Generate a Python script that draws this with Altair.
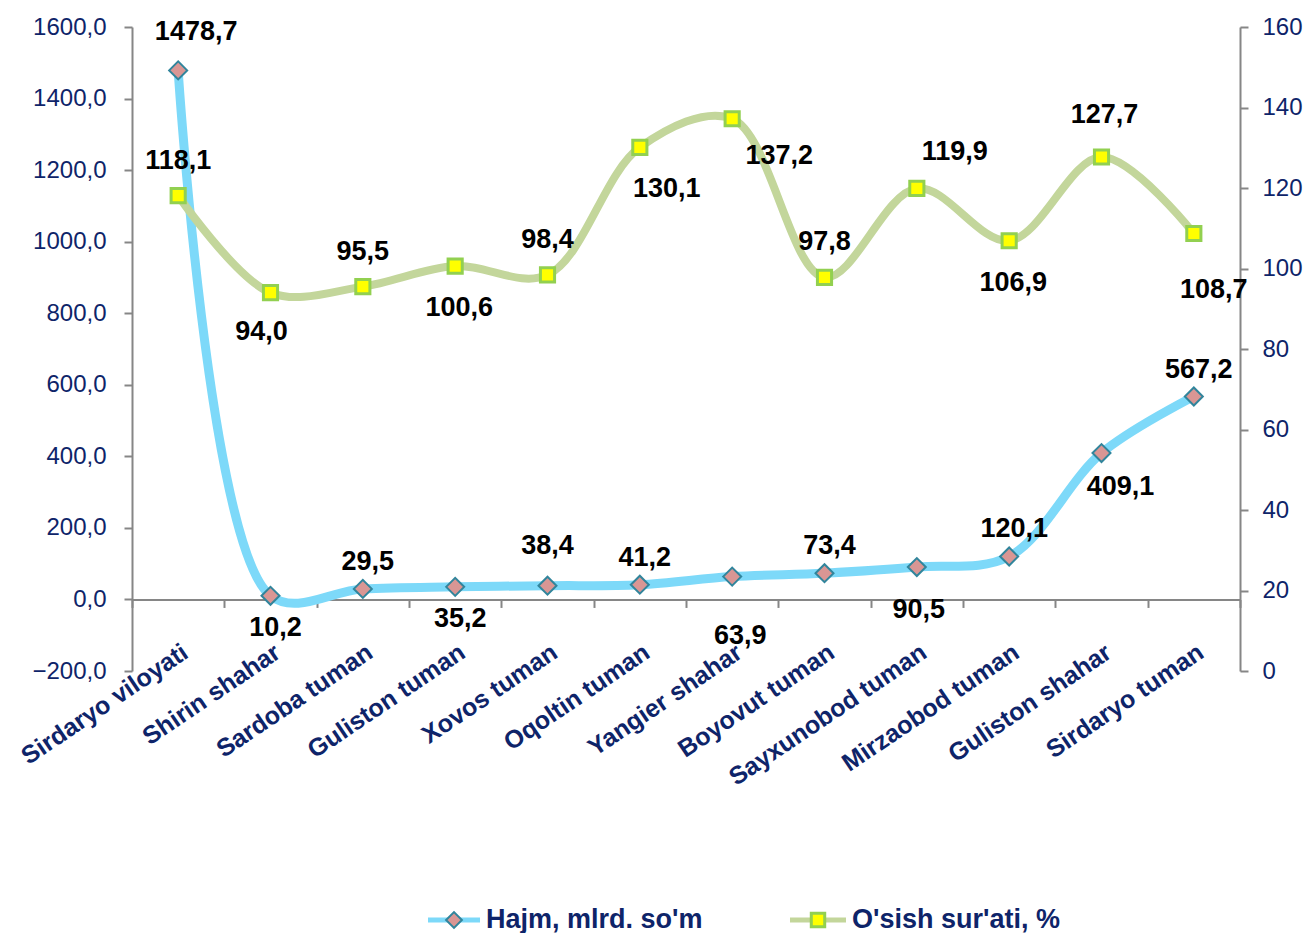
import altair as alt
import pandas as pd

categories = [
    "Sirdaryo viloyati", "Shirin shahar", "Sardoba tuman", "Guliston tuman",
    "Xovos tuman", "Oqoltin tuman", "Yangier shahar", "Boyovut tuman",
    "Sayxunobod tuman", "Mirzaobod tuman", "Guliston shahar", "Sirdaryo tuman",
]
hajm = [1478.7, 10.2, 29.5, 35.2, 38.4, 41.2, 63.9, 73.4, 90.5, 120.1, 409.1, 567.2]
osish = [118.1, 94.0, 95.5, 100.6, 98.4, 130.1, 137.2, 97.8, 119.9, 106.9, 127.7, 108.7]
hajm_label_pos = ["above_right", "below", "above", "below", "above_high", "above",
                  "below_far", "above", "below_mid", "above", "below_right", "above"]
osish_label_pos = ["above", "below_left", "above", "below", "above", "below_right",
                   "below_right2", "above", "above_right", "below", "above_high", "below_far"]
series_names = ["Hajm, mlrd. so'm", "O'sish sur'ati, %"]

df = pd.DataFrame({
    "cat": categories, "hajm": hajm, "osish": osish,
    "pos_h": hajm_label_pos, "pos_o": osish_label_pos,
})
legend_df = pd.DataFrame({"series": series_names})

NAVY = "#0E2469"
FONT = "Liberation Sans"
GRAY = "#868686"
BLUE = "#7DD9F9"
GREEN = "#C3D69B"
W, H = 1108, 644
zero_offset = -(H * 200 / 1800)

offsets_h = {
    "above": (5, -27), "above_high": (0, -40), "above_right": (18, -38),
    "below": (5, 32), "below_mid": (2, 43), "below_far": (8, 59), "below_right": (19, 34),
}
offsets_o = {
    "above": (0, -35), "above_high": (3, -42), "above_right": (38, -36),
    "below": (4, 42), "below_left": (-9, 39), "below_right": (27, 42),
    "below_right2": (47, 37), "below_far": (20, 57),
}

x_enc = alt.X(
    "cat:N", sort=categories,
    scale=alt.Scale(type="band", paddingInner=0, paddingOuter=0),
    axis=alt.Axis(
        title=None, orient="bottom", offset=zero_offset,
        domainColor=GRAY, domainWidth=2, tickColor=GRAY, tickWidth=2, tickSize=8,
        tickBand="extent", labelAngle=-34, labelAlign="right", labelBaseline="top",
        labelFont=FONT, labelFontSize=25, labelFontWeight="bold", labelColor=NAVY,
        labelPadding=32, labelLimit=0,
    ),
)

y_left = alt.Y(
    "hajm:Q",
    scale=alt.Scale(domain=[-200, 1600], nice=False, zero=False),
    axis=alt.Axis(
        title=None, orient="left", values=list(range(-200, 1601, 200)),
        labelExpr="replace(format(datum.value, '.1f'), '.', ',')",
        grid=False, domainColor=GRAY, domainWidth=2, tickColor=GRAY, tickWidth=2,
        tickSize=8, labelPadding=18, labelFont=FONT, labelFontSize=24, labelColor=NAVY,
    ),
)
y_right = alt.Y(
    "osish:Q",
    scale=alt.Scale(domain=[0, 160], nice=False, zero=False),
    axis=alt.Axis(
        title=None, orient="right", values=list(range(0, 161, 20)), format="d",
        grid=False, domainColor=GRAY, domainWidth=2, tickColor=GRAY, tickWidth=2,
        tickSize=8, labelPadding=14, labelFont=FONT, labelFontSize=24, labelColor=NAVY,
    ),
)

base = alt.Chart(df)


def labels(field, posfield, yenc, offsets):
    layers = []
    for code, (dx, dy) in offsets.items():
        layers.append(
            base.transform_filter(alt.datum[posfield] == code)
            .transform_calculate(lbl=f"replace(format(datum.{field}, '.1f'), '.', ',')")
            .mark_text(font=FONT, fontSize=27, fontWeight="bold", color="black",
                       dx=dx, dy=dy, baseline="middle", align="center")
            .encode(x=x_enc, y=yenc, text="lbl:N")
        )
    return layers


blue_line = base.mark_line(color=BLUE, strokeWidth=9, interpolate="catmull-rom").encode(x=x_enc, y=y_left)
blue_pts = base.mark_point(shape="diamond", filled=True, fill="#D99694", stroke="#31859C",
                           strokeWidth=2, size=324, opacity=1).encode(x=x_enc, y=y_left)
blue = alt.layer(blue_line, blue_pts, *labels("hajm", "pos_h", y_left, offsets_h))

green_line = base.mark_line(color=GREEN, strokeWidth=8, interpolate="catmull-rom").encode(x=x_enc, y=y_right)
green_pts = base.mark_point(shape="square", filled=True, fill="#FFFF00", stroke="#92D050",
                            strokeWidth=3, size=200, opacity=1).encode(x=x_enc, y=y_right)
green = alt.layer(green_line, green_pts, *labels("osish", "pos_o", y_right, offsets_o))

ly = 893
lg = alt.Chart(legend_df)
legend_layers = []
legend_specs = [
    (series_names[0], 296, 348, BLUE, "diamond", "#D99694", "#31859C", 2, 250),
    (series_names[1], 658, 714, GREEN, "square", "#FFFF00", "#92D050", 3, 180),
]
for name, x0, x1, lc, shp, fc, sc, sw, sz in legend_specs:
    sub = lg.transform_filter(alt.datum.series == name)
    legend_layers.append(sub.mark_rule(color=lc, strokeWidth=5).encode(
        x=alt.value(x0), x2=alt.value(x1), y=alt.value(ly)))
    legend_layers.append(sub.mark_point(shape=shp, filled=True, fill=fc, stroke=sc,
                                        strokeWidth=sw, size=sz, opacity=1).encode(
        x=alt.value((x0 + x1) / 2), y=alt.value(ly)))
    legend_layers.append(sub.mark_text(font=FONT, fontSize=27, fontWeight="bold", color=NAVY,
                                       align="left", baseline="middle").encode(
        x=alt.value(x1 + 6), y=alt.value(ly), text="series:N"))

chart = (
    alt.layer(blue, green, *legend_layers)
    .resolve_scale(y="independent")
    .properties(
        width=W, height=H,
        autosize=alt.AutoSizeParams(type="none"),
        padding={"left": 124, "top": 19, "right": 64, "bottom": 262},
    )
    .configure_view(stroke=None)
)

chart.save("out.html", embed_options={"renderer": "svg", "actions": False})
